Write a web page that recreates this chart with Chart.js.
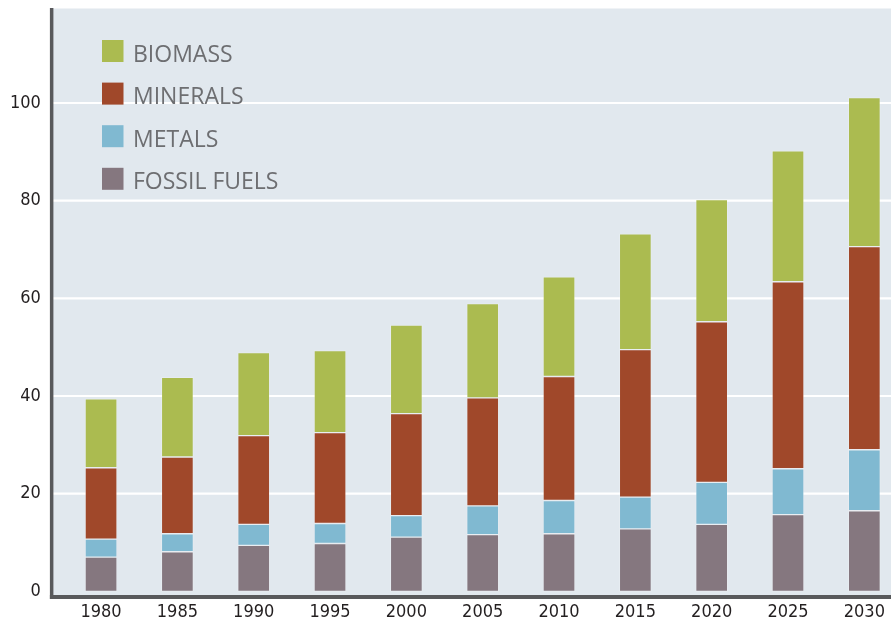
<!DOCTYPE html>
<html>
<head>
<meta charset="utf-8">
<script src="https://cdn.jsdelivr.net/npm/chart.js@4/dist/chart.umd.min.js"></script>
<style>
  html, body { margin: 0; padding: 0; background: #ffffff; overflow: hidden; width: 891px; height: 623px; }
  canvas { display: block; }
</style>
</head>
<body>
<canvas id="c" width="910" height="623" style="width:910px;height:623px"></canvas>
<script>
const categories = ["1980", "1985", "1990", "1995", "2000", "2005", "2010", "2015", "2020", "2025", "2030"];
const fossilFuels = [7.0, 8.1, 9.4, 9.8, 11.1, 11.6, 11.8, 12.8, 13.7, 15.7, 16.5];
const metals      = [3.7, 3.7, 4.3, 4.1, 4.4, 5.9, 6.8, 6.5, 8.6, 9.4, 12.5];
const minerals    = [14.6, 15.7, 18.2, 18.6, 20.9, 22.1, 25.4, 30.2, 32.9, 38.3, 41.6];
const biomass     = [14.1, 16.3, 17.0, 16.8, 18.1, 19.3, 20.4, 23.7, 25.0, 26.8, 30.5];
const yTicks = [0, 20, 40, 60, 80, 100];

const TICK_FONT = { family: "'Liberation Sans Narrow', 'DejaVu Sans Condensed', 'Liberation Sans', sans-serif", size: 18 };
const PLOT_BG = '#e1e8ee';
const AXIS_COLOR = '#58595b';

const framePlugin = {
  id: 'frame',
  beforeDatasetsDraw(chart) {
    const { ctx, chartArea, scales } = chart;
    const x0 = chartArea.left - 10;
    ctx.save();
    ctx.fillStyle = PLOT_BG;
    ctx.fillRect(x0, chartArea.top, chart.width - x0, chartArea.bottom - chartArea.top);
    ctx.strokeStyle = '#ffffff';
    ctx.lineWidth = 2.2;
    yTicks.forEach(v => {
      if (v === 0) return;
      const y = scales.y.getPixelForValue(v);
      ctx.beginPath();
      ctx.moveTo(x0, y);
      ctx.lineTo(chart.width, y);
      ctx.stroke();
    });
    ctx.restore();
  },
  afterDatasetsDraw(chart) {
    const { ctx, chartArea } = chart;
    const x0 = chartArea.left - 10;
    ctx.save();
    ctx.fillStyle = AXIS_COLOR;
    ctx.fillRect(x0 - 3, chartArea.top - 0.5, 3.5, chartArea.bottom - chartArea.top + 4.5);
    ctx.fillRect(x0 - 3, chartArea.bottom, chart.width - x0 + 3, 4);
    ctx.restore();

    const items = chart.data.datasets.slice().reverse();
    ctx.save();
    ctx.font = "23px 'Open Sans', sans-serif";
    ctx.textBaseline = 'alphabetic';
    ctx.textAlign = 'left';
    items.forEach((ds, i) => {
      const top = 40 + i * 42.6;
      ctx.fillStyle = ds.backgroundColor;
      ctx.fillRect(102, top, 21.5, 22);
      ctx.fillStyle = '#6d6e71';
      ctx.fillText(ds.label, 133, top + 21.5);
    });
    ctx.restore();
  }
};

new Chart(document.getElementById('c'), {
  type: 'bar',
  data: {
    labels: categories,
    datasets: [
      { label: 'FOSSIL FUELS', data: fossilFuels, backgroundColor: '#85777f', borderColor: 'rgba(255,255,255,0.2)' },
      { label: 'METALS', data: metals, backgroundColor: '#80b9d1', borderColor: 'rgba(255,255,255,0.2)' },
      { label: 'MINERALS', data: minerals, backgroundColor: '#a0482a', borderColor: 'rgba(255,255,255,0.2)' },
      { label: 'BIOMASS', data: biomass, backgroundColor: '#abbb50', borderColor: 'rgba(255,255,255,0.2)' }
    ]
  },
  options: {
    responsive: false,
    devicePixelRatio: 1,
    animation: false,
    events: [],
    datasets: { bar: { barThickness: 32, borderWidth: 1, borderSkipped: false } },
    layout: { padding: { top: 8.5, right: 7.5, bottom: 0, left: 0 } },
    plugins: { legend: { display: false }, tooltip: { enabled: false } },
    scales: {
      x: {
        stacked: true,
        offset: true,
        grid: { display: false, drawTicks: false, tickLength: 0 },
        border: { display: false },
        ticks: { color: '#231f20', font: TICK_FONT, padding: 7, maxRotation: 0, autoSkip: false },
        afterFit(s) { s.height = 28; s.paddingLeft = 0; s.paddingRight = 0; }
      },
      y: {
        stacked: true,
        min: -0.75,
        max: 119.35,
        grid: { display: false, drawTicks: false, tickLength: 0 },
        border: { display: false },
        ticks: { color: '#231f20', font: TICK_FONT, padding: 22 },
        afterBuildTicks(s) { s.ticks = yTicks.map(v => ({ value: v })); },
        afterFit(s) { s.width = 62.9; s.paddingTop = 0; s.paddingBottom = 0; }
      }
    }
  },
  plugins: [framePlugin]
});
</script>
</body>
</html>
